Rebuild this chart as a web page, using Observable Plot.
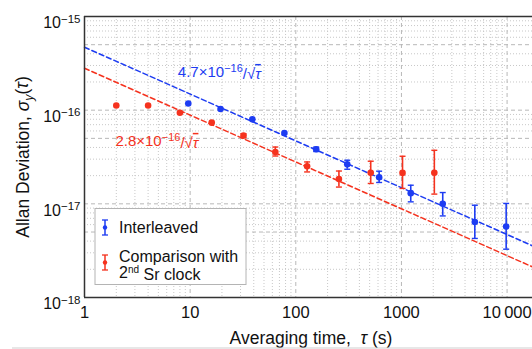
<!DOCTYPE html>
<html><head><meta charset="utf-8">
<script src="https://cdn.jsdelivr.net/npm/d3@7"></script>
<script src="https://cdn.jsdelivr.net/npm/@observablehq/plot@0.6"></script>
<style>
body{margin:0;background:#fff;}
svg{font-family:"Liberation Sans",Arial,Helvetica,sans-serif;}
</style>
</head><body><div id="chart"></div>
<script>
// ---- data ----
const blueTau = [9.6, 19.4, 38.8, 78, 156, 307, 615, 1225, 2460, 4950, 9800];
const blueVal = [1.18e-16, 1.03e-16, 7.98e-17, 5.7e-17, 3.82e-17, 2.64e-17, 1.92e-17, 1.30e-17, 1.0e-17, 6.4e-18, 5.73e-18];
const blueLo  = [null, null, null, null, 3.62e-17, 2.34e-17, 1.69e-17, 1.05e-17, 7.43e-18, 4.27e-18, 3.28e-18];
const blueHi  = [null, null, null, null, 4.03e-17, 2.92e-17, 2.23e-17, 1.58e-17, 1.32e-17, 9.66e-18, 1.01e-17];

const redTau = [2, 4, 8, 16, 32, 64, 128, 256, 512, 1024, 2048];
const redVal = [1.12e-16, 1.12e-16, 9.4e-17, 7.36e-17, 5.35e-17, 3.57e-17, 2.52e-17, 1.84e-17, 2.15e-17, 2.14e-17, 2.15e-17];
const redLo  = [null, null, null, null, 5.1e-17, 3.24e-17, 2.19e-17, 1.51e-17, 1.65e-17, 1.46e-17, 1.27e-17];
const redHi  = [null, null, null, null, 5.6e-17, 4.04e-17, 2.80e-17, 2.24e-17, 2.85e-17, 3.22e-17, 3.73e-17];

const blueCoef = 4.7e-16;
const redCoef = 2.8e-16;
const fitTau = [1, 17400];

const xTicks = [1, 10, 100, 1000, 10000];
const xTickLabels = ["1", "10", "100", "1000", "10\u2009000"];
const yTicks = [1e-18, 1e-17, 1e-16, 1e-15];
const yTickExps = ["\u221218", "\u221217", "\u221216", "\u221215"];
const gridMultipliers = [2, 3, 4, 6, 7, 8, 9];
const yDashedExtra = [5e-18, 5e-17, 5e-16];

// ---- build tables ----
const BLUE = "#1d3cf2", RED = "#f5321e";
const blue = blueTau.map((t, i) => ({t, v: blueVal[i], lo: blueLo[i], hi: blueHi[i]}));
const red = redTau.map((t, i) => ({t, v: redVal[i], lo: redLo[i], hi: redHi[i]}));
const blueErr = blue.filter(d => d.lo != null);
const redErr = red.filter(d => d.lo != null);
const blueFit = fitTau.map(t => ({t, v: blueCoef / Math.sqrt(t)}));
const redFit = fitTau.map(t => ({t, v: redCoef / Math.sqrt(t)}));

const xMinor = [];
[1, 10, 100, 1000, 10000].forEach(d => gridMultipliers.concat([5]).forEach(k => { if (d * k < 17400) xMinor.push(d * k); }));
const yMinor = [];
[1e-18, 1e-17, 1e-16].forEach(d => gridMultipliers.forEach(k => yMinor.push(d * k)));
const yDashed = yTicks.concat(yDashedExtra);

const cap = {draw(ctx, size) { const w = Math.sqrt(size / Math.PI); ctx.moveTo(-w, 0); ctx.lineTo(w, 0); }};

const plot = Plot.plot({
  width: 532, height: 349,
  marginLeft: 84, marginRight: 0, marginTop: 16, marginBottom: 52,
  x: {type: "log", domain: [1, 17400]},
  y: {type: "log", domain: [1e-18, 1e-15]},
  style: {fontFamily: '"Liberation Sans", Arial, sans-serif', background: "white", color: "#111"},
  marks: [
    Plot.ruleX(xMinor, {stroke: "#c8c8c8", strokeDasharray: "1,2", strokeWidth: 1}),
    Plot.ruleY(yMinor, {stroke: "#c8c8c8", strokeDasharray: "1,2", strokeWidth: 1}),
    Plot.ruleX(xTicks, {stroke: "#b8b8b8", strokeDasharray: "4,3", strokeWidth: 1}),
    Plot.ruleY(yDashed, {stroke: "#b8b8b8", strokeDasharray: "4,3", strokeWidth: 1}),
    Plot.line(blueFit, {x: "t", y: "v", stroke: BLUE, strokeWidth: 1.5, strokeDasharray: "5,3"}),
    Plot.line(redFit, {x: "t", y: "v", stroke: RED, strokeWidth: 1.5, strokeDasharray: "5,3"}),
    Plot.ruleX(redErr, {x: "t", y1: "lo", y2: "hi", stroke: RED, strokeWidth: 1.6}),
    Plot.dot(redErr, {x: "t", y: "lo", symbol: cap, r: 3, stroke: RED, strokeWidth: 1.4}),
    Plot.dot(redErr, {x: "t", y: "hi", symbol: cap, r: 3, stroke: RED, strokeWidth: 1.4}),
    Plot.dot(red, {x: "t", y: "v", r: 3.3, fill: RED, stroke: "none"}),
    Plot.ruleX(blueErr, {x: "t", y1: "lo", y2: "hi", stroke: BLUE, strokeWidth: 1.6}),
    Plot.dot(blueErr, {x: "t", y: "lo", symbol: cap, r: 3, stroke: BLUE, strokeWidth: 1.4}),
    Plot.dot(blueErr, {x: "t", y: "hi", symbol: cap, r: 3, stroke: BLUE, strokeWidth: 1.4}),
    Plot.dot(blue, {x: "t", y: "v", r: 3.3, fill: BLUE, stroke: "none"}),
    Plot.ruleX([1], {stroke: "#333", strokeWidth: 1.5}),
    Plot.ruleY([1e-18, 1e-15], {stroke: "#333", strokeWidth: 1.5}),
    Plot.axisX({ticks: xTicks, tickSize: 0, tickPadding: 9, fontSize: 16, label: null,
      tickFormat: d => xTickLabels[xTicks.indexOf(d)]}),
    Plot.axisY({ticks: yTicks, tickSize: 0, tickPadding: 4, fontSize: 16, label: null,
      tickFormat: d => "10^" + yTickExps[yTicks.indexOf(d)]})
  ]
});

const svg = d3.select(plot);
svg.selectAll("text").each(function() {
  const t = this.textContent;
  const sel = d3.select(this);
  if (t.startsWith("10^")) {
    this.textContent = "10";
    sel.attr("dy", "0.42em").style("font-size", "16px");
    sel.append("tspan").attr("dy", "-0.5em").style("font-size", "11.5px").text(t.slice(3));
  } else if (xTickLabels.includes(t)) {
    sel.style("font-size", "16.5px");
  }
});

const xs = plot.scale("x"), ys = plot.scale("y");

function txt(parent, x, y, size, anchor, color) {
  return parent.append("text").attr("x", x).attr("y", y).attr("dy", "0.35em")
    .style("font-size", size + "px").style("text-anchor", anchor).attr("fill", color || "#111");
}

// annotations
function annot(x, y, coef, color) {
  const t = txt(svg, x, y, 15, "middle", color);
  t.append("tspan").text(coef + "\u00d710");
  t.append("tspan").attr("dy", "-0.45em").style("font-size", "11px").text("\u221216");
  t.append("tspan").attr("dy", "0.45em").text("/\u221a");
  t.append("tspan").style("font-style", "italic").style("text-decoration", "overline").text("\u03c4");
}
annot(xs.apply(19.1), ys.apply(2.53e-16), "4.7", BLUE);
annot(xs.apply(4.9), ys.apply(4.65e-17), "2.8", RED);

// axis titles
const yl = svg.append("text").attr("transform", "translate(23,157) rotate(-90)").attr("dy", "0.35em")
  .style("text-anchor", "middle").style("font-size", "17.5px").attr("fill", "#111");
yl.append("tspan").text("Allan Deviation, ");
yl.append("tspan").style("font-style", "italic").text("\u03c3");
yl.append("tspan").style("font-style", "italic").style("font-size", "12.5px").attr("dy", "0.3em").text("y");
yl.append("tspan").attr("dy", "-0.3em").text("(");
yl.append("tspan").style("font-style", "italic").text("\u03c4");
yl.append("tspan").text(")");

const xl = txt(svg, 311, 338, 17.5, "middle");
xl.append("tspan").text("Averaging time,\u00a0 ");
xl.append("tspan").style("font-style", "italic").text("\u03c4");
xl.append("tspan").text(" (s)");

// legend
const lg = svg.append("g");
lg.append("rect").attr("x", 95).attr("y", 208.5).attr("width", 151).attr("height", 76)
  .attr("fill", "white").attr("stroke", "#b4b4b4").attr("stroke-width", 1);
function icon(cy, color) {
  lg.append("line").attr("x1", 105).attr("x2", 105).attr("y1", cy - 7.5).attr("y2", cy + 7.5).attr("stroke", color).attr("stroke-width", 1.5);
  lg.append("line").attr("x1", 102).attr("x2", 108).attr("y1", cy - 7.5).attr("y2", cy - 7.5).attr("stroke", color).attr("stroke-width", 1.3);
  lg.append("line").attr("x1", 102).attr("x2", 108).attr("y1", cy + 7.5).attr("y2", cy + 7.5).attr("stroke", color).attr("stroke-width", 1.3);
  lg.append("circle").attr("cx", 105).attr("cy", cy).attr("r", 2.2).attr("fill", color);
}
icon(227.5, BLUE);
icon(262.5, RED);
txt(lg, 119, 227.5, 16, "start").text("Interleaved");
txt(lg, 119, 256.5, 16, "start").text("Comparison with");
const l3 = txt(lg, 119, 272, 16, "start");
l3.append("tspan").text("2");
l3.append("tspan").attr("dy", "-0.45em").style("font-size", "10px").text("nd");
l3.append("tspan").attr("dy", "0.45em").text(" Sr clock");

svg.append("line").attr("x1", 12).attr("x2", 532).attr("y1", 348).attr("y2", 348).attr("stroke", "#cfcfcf").attr("stroke-width", 1);

document.getElementById("chart").appendChild(plot);
</script>
</body></html>
